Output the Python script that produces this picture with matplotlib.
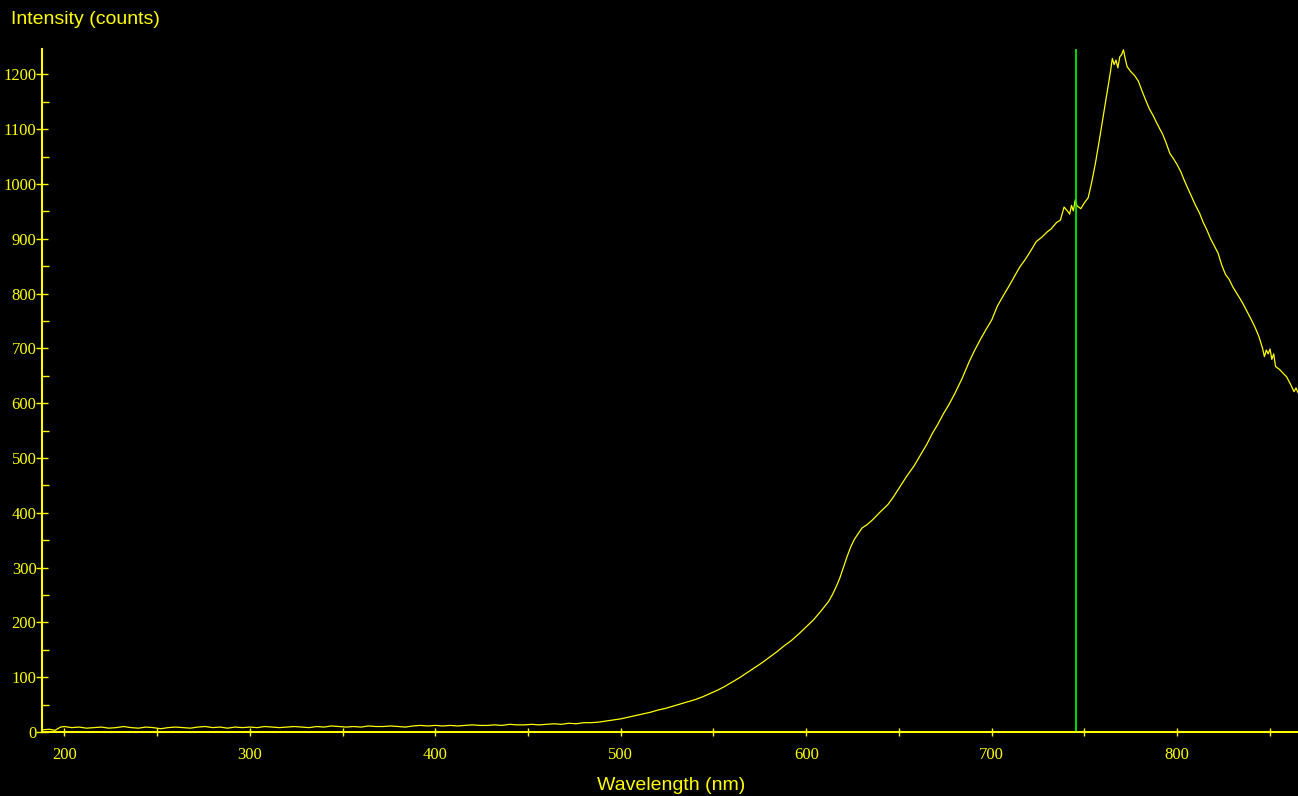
import matplotlib.pyplot as plt
from matplotlib.ticker import MultipleLocator

# spectrum
wavelength = [188, 192, 195, 198, 200, 204, 208, 212, 216, 220, 224, 228, 232, 236, 240, 244, 248, 252,
              256, 260, 264, 268, 272, 276, 280, 284, 288, 292, 296, 300, 304, 308, 312, 316, 320, 324,
              328, 332, 336, 340, 344, 348, 352, 356, 360, 364, 368, 372, 376, 380, 384, 388, 392, 396,
              400, 404, 408, 412, 416, 420, 424, 428, 432, 436, 440, 444, 448, 452, 456, 460, 464, 468,
              472, 476, 480, 484, 488, 492, 496, 500, 504, 508, 512, 516, 520, 524, 528, 532, 536, 540,
              544, 548, 552, 556, 560, 564, 568, 572, 576, 580, 584, 588, 592, 596, 600, 604, 608, 612,
              614, 616, 618, 620, 622, 624, 626, 628, 630, 633, 636, 640, 644, 647, 650, 654, 658, 661,
              665, 668, 671, 674, 677, 680, 684, 688, 691, 694, 697, 700, 703, 706, 709, 712, 715, 718,
              721, 724, 727, 730, 732, 735, 737, 739, 741, 742, 743, 744, 745, 746, 748, 750, 752, 754,
              756, 758, 760, 762, 764, 765, 766, 767, 768, 769, 770, 771, 772, 773, 775, 777, 779, 781,
              783, 785, 787, 789, 791, 792, 794, 796, 798, 800, 802, 804, 806, 808, 810, 812, 814, 816,
              818, 820, 822, 824, 826, 828, 830, 832, 834, 836, 838, 840, 842, 844, 846, 847, 848, 849,
              850, 851, 852, 853, 855, 857, 859, 861, 863, 864, 865]
counts = [4, 5, 3, 9, 10, 8, 9, 7, 8, 9, 7, 8, 10, 8, 7, 9, 8, 6,
          8, 9, 8, 7, 9, 10, 8, 9, 7, 9, 8, 9, 8, 10, 9, 8, 9, 10,
          9, 8, 10, 9, 11, 10, 9, 10, 9, 11, 10, 10, 11, 10, 9, 11, 12, 11,
          12, 11, 12, 11, 12, 13, 12, 12, 13, 12, 14, 13, 13, 14, 13, 14, 15, 14,
          16, 15, 17, 17, 18, 20, 22, 24, 27, 30, 33, 36, 40, 43, 47, 51, 55, 59,
          64, 70, 76, 83, 91, 99, 108, 117, 126, 136, 146, 157, 167, 179, 192, 205, 221, 238,
          250, 264, 280, 300, 320, 338, 352, 362, 372, 379, 388, 402, 415, 429, 445, 466, 485, 502,
          525, 545, 562, 581, 598, 617, 645, 677, 698, 717, 735, 752, 777, 795, 812, 830, 848, 862,
          878, 895, 903, 913, 918, 930, 934, 958, 950, 945, 961, 951, 971, 960, 955, 966, 975, 1005,
          1040, 1080, 1122, 1165, 1205, 1229, 1218, 1226, 1212, 1232, 1236, 1245, 1228, 1214, 1205, 1198, 1188, 1170,
          1153, 1137, 1125, 1111, 1098, 1092, 1075, 1056, 1046, 1035, 1022, 1005, 990, 975, 960, 947, 930, 916,
          900, 887, 874, 852, 835, 826, 812, 801, 790, 778, 765, 752, 738, 722, 700, 685, 697, 690,
          699, 680, 690, 667, 662, 655, 648, 635, 621, 628, 620]
cursor_nm = 745.4

yel = '#ffff00'
fig = plt.figure(figsize=(12.98, 7.96), dpi=100, facecolor='black')
ax = fig.add_axes([42/1298, 64/796, 1256/1298, 683/796], facecolor='black')

ax.plot(wavelength, counts, color=yel, lw=0.9)
ax.axvline(cursor_nm, color='#00ff00', lw=1.2)

ax.set_xlim(188, 865.1)
ax.set_ylim(0, 1246.4)

for s in ['top', 'right']:
    ax.spines[s].set_visible(False)
for s in ['left', 'bottom']:
    ax.spines[s].set_color(yel)
    ax.spines[s].set_linewidth(1.5)

ax.xaxis.set_major_locator(MultipleLocator(100))
ax.xaxis.set_minor_locator(MultipleLocator(50))
ax.yaxis.set_major_locator(MultipleLocator(100))
ax.yaxis.set_minor_locator(MultipleLocator(50))

ax.tick_params(axis='y', which='major', direction='inout', length=8, width=1, color=yel,
               labelcolor=yel, labelsize=12, pad=0)
ax.tick_params(axis='y', which='minor', direction='in', length=5, width=1, color=yel)
ax.tick_params(axis='x', which='both', direction='inout', length=6, width=1, color=yel,
               labelcolor=yel, labelsize=12, pad=8)
for lab in ax.get_xticklabels() + ax.get_yticklabels():
    lab.set_family('Liberation Serif')

fig.text(11/1298, 1 - 20/796, 'Intensity (counts)', color=yel, fontsize=14,
         family='Liberation Sans', ha='left', va='center')
fig.text(671/1298, 1 - 785/796, 'Wavelength (nm)', color=yel, fontsize=14,
         family='Liberation Sans', ha='center', va='center')

fig.savefig('out.png', dpi=100, facecolor='black')
